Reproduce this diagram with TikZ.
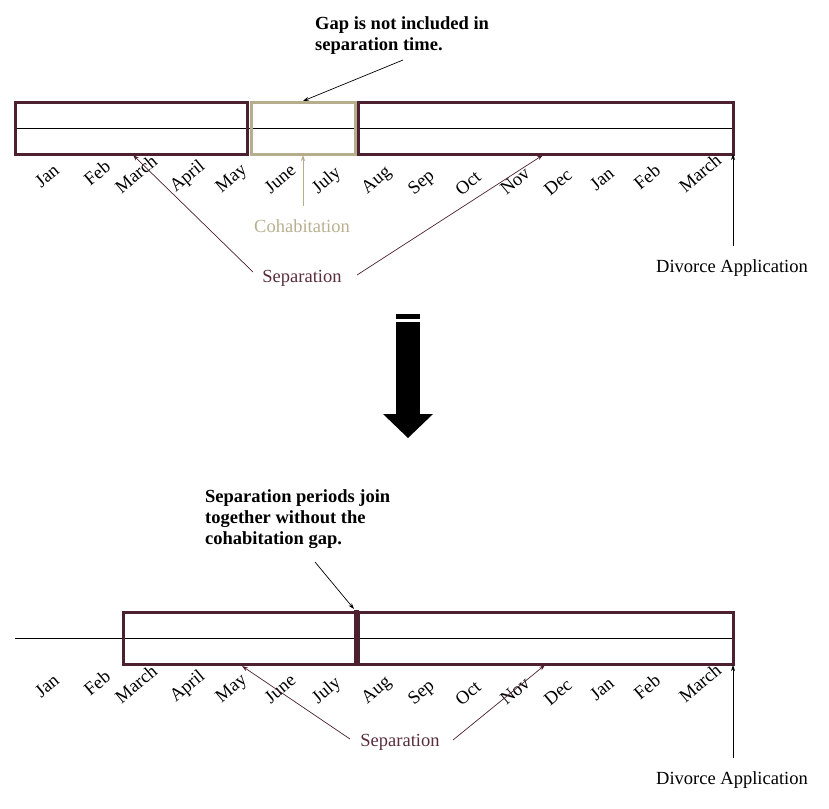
\documentclass[tikz,border=0pt]{standalone}
\usepackage{fontspec}
\setmainfont{Liberation Serif}
\usetikzlibrary{arrows.meta}
\definecolor{maroon}{RGB}{77,32,48}
\definecolor{tanc}{RGB}{181,173,140}
\definecolor{septext}{RGB}{90,45,60}
\definecolor{cohtext}{RGB}{184,176,144}
\begin{document}
\begin{tikzpicture}[x=1pt,y=-1pt,
  every node/.style={font=\fontsize{18.5}{21}\selectfont, inner sep=0pt},
  sepbox/.style={draw=maroon, line width=3pt},
  cohbox/.style={draw=tanc, line width=3pt},
  axisline/.style={draw=black, line width=0.9pt},
  month/.style={rotate=40},
  tipline/.style={-{Stealth[length=6pt,width=4pt]}, line width=0.7pt},
  note/.style={font=\fontsize{18.5}{21}\selectfont\bfseries, align=left, anchor=north west},
  septxt/.style={text=septext},
]
\useasboundingbox (0,0) rectangle (829,808);

% ---------- top timeline ----------
\draw[axisline] (15,128) -- (733,128);
\draw[sepbox] (15,102) rectangle (247,154);
\draw[cohbox] (251,102) rectangle (355,154);
\draw[sepbox] (358,102) rectangle (733,154);

\foreach \m/\x/\y [count=\i] in {Jan/47/176,Feb/97/173,March/136/174,April/188/177,May/232/179,June/280/179,July/327/181,Aug/377/181,Sep/422/183,Oct/468/183,Nov/515/181,Dec/558/182,Jan/602/179,Feb/647/177,March/700/173}{
  \node[month] (tm\i) at (\x,\y) {\m};
  \node[month] (bm\i) at (\x,\y+510) {\m};
}

\node[note] (gap) at (315,16.5) {Gap is not included in\\separation time.};
\coordinate (gapfrom) at (403,60);
\coordinate (gapto) at (303,101);
\draw[tipline] (gapfrom) -- (gapto);

\node[text=cohtext] (coh) at (302,226) {Cohabitation};
\coordinate (cohfrom) at (303,206);
\coordinate (cohto) at (303,155);
\draw[tipline, draw=tanc] (cohfrom) -- (cohto);

\node[septxt] (sep1) at (302,278) {Separation};
\coordinate (s1a) at (253,272);
\coordinate (s1at) at (133,155);
\coordinate (s1b) at (357,275);
\coordinate (s1bt) at (543,155);
\draw[tipline, draw=maroon] (s1a) -- (s1at);
\draw[tipline, draw=maroon] (s1b) -- (s1bt);

\coordinate (d1bot) at (733,246);
\coordinate (d1top) at (733,154);
\draw[tipline] (d1bot) -- (d1top);
\node (div1) at (732,268) {Divorce Application};

% ---------- big arrow ----------
\fill[black] (396,314) rectangle (420,319);
\fill[black] (396,322) rectangle (420,414);
\fill[black] (383,414) -- (433,414) -- (408,438) -- cycle;

% ---------- bottom timeline ----------
\draw[axisline] (15,638) -- (733,638);
\draw[sepbox] (123,612) rectangle (356,664);
\draw[sepbox] (358,612) rectangle (733,664);
\draw[draw=maroon, line width=5pt] (356,610) -- (356,665);

\node[note] (join) at (205,489.5) {Separation periods join\\together without the\\cohabitation gap.};
\coordinate (joinfrom) at (315,562);
\coordinate (jointo) at (354,609);
\draw[tipline] (joinfrom) -- (jointo);

\node[septxt] (sep2) at (400,742) {Separation};
\coordinate (s2a) at (350,739);
\coordinate (s2at) at (242,666);
\coordinate (s2b) at (453,740);
\coordinate (s2bt) at (545,665);
\draw[tipline, draw=maroon] (s2a) -- (s2at);
\draw[tipline, draw=maroon] (s2b) -- (s2bt);

\coordinate (d2bot) at (733,758);
\coordinate (d2top) at (733,665);
\draw[tipline] (d2bot) -- (d2top);
\node (div2) at (732,780) {Divorce Application};
\end{tikzpicture}
\end{document}
